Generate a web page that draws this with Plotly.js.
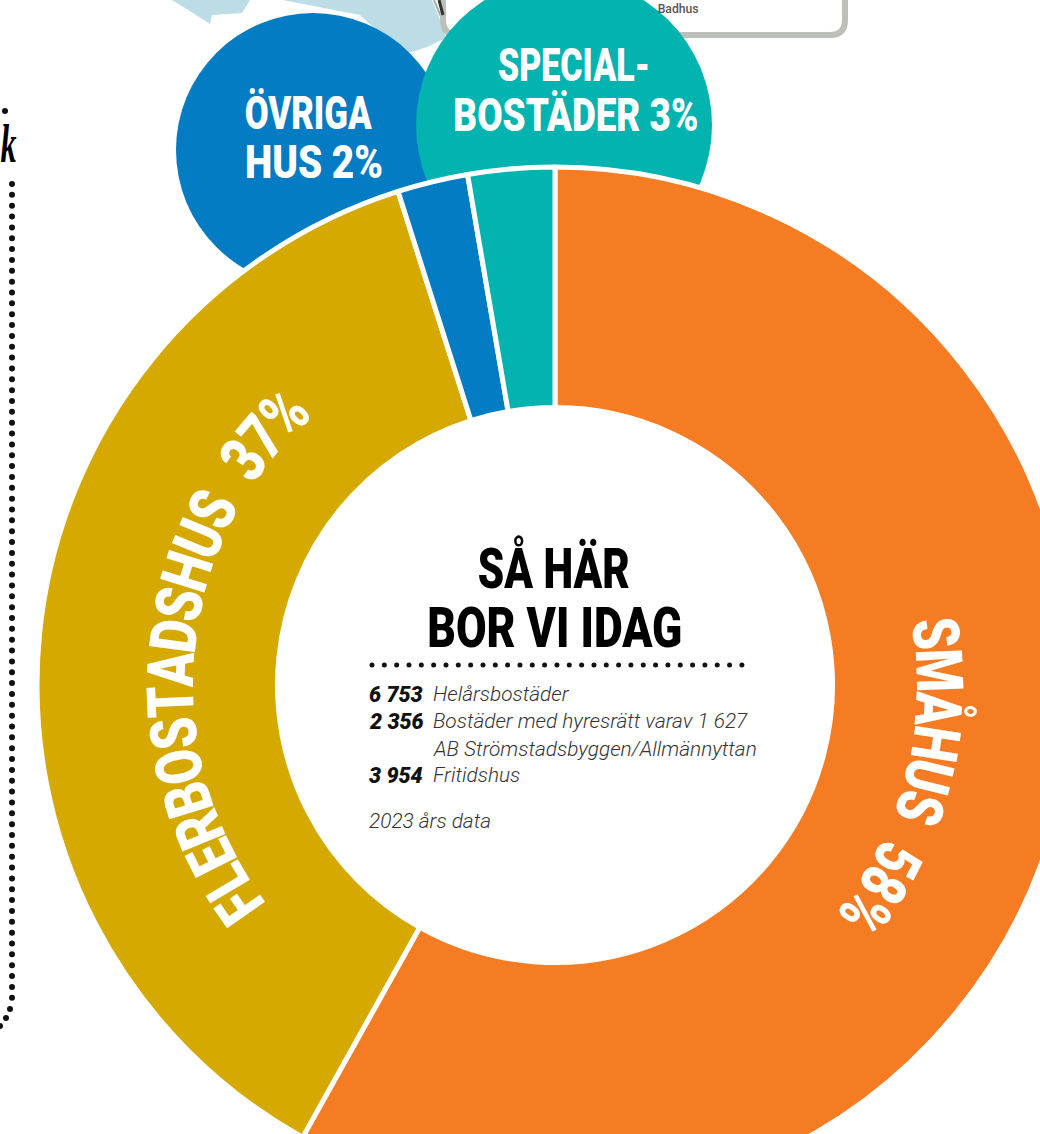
<!DOCTYPE html>
<html><head><meta charset="utf-8">
<script src="https://cdn.plot.ly/plotly-3.0.1.min.js"></script>
<style>html,body{margin:0;padding:0;width:1040px;height:1134px;overflow:hidden;background:#fff}#c{position:absolute;left:0;top:0}</style>
</head><body><div id="c"></div>
<script>
const categories=['SMÅHUS','FLERBOSTADSHUS','ÖVRIGA HUS','SPECIALBOSTÄDER'];
const shares=[58.1,37,2.2,2.7];
const shareLabels=[58,37,2,3];
const sliceColors=['#f57c22','#d6a900','#047cc3','#02b3b0'];
const tableNumbers=['6 753','2 356','','3 954'];
const tableTexts=['Helårsbostäder','Bostäder med hyresrätt varav 1 627','AB Strömstadsbyggen/Allmännyttan','Fritidshus'];
const dataNote='2023 års data';
const centerTitle=['SÅ HÄR','BOR VI IDAG'];

const W=1110,H=1370,CX=555,CY=685,R=518;
const HEAD='Roboto,sans-serif';
const BODY='Roboto,sans-serif';
const ann=[],fit=[];
function txt(t,x,y,size,color,opt,len){fit.push(len||0);ann.push(Object.assign({text:t,x:x,y:y,xref:'x',yref:'y',showarrow:false,xanchor:'center',yanchor:'middle',font:{family:HEAD,size:size,color:color,weight:900}},opt||{}));}
const ctx=document.createElement('canvas').getContext('2d');
function arcText(s,r,a0,a1,size){
  ctx.font='900 '+size+'px Roboto';
  const w=[...s].map(c=>ctx.measureText(c).width*(c===' '?2.2:1)),tot=w.reduce((a,b)=>a+b,0);
  const sx=r*Math.abs(a1-a0)*Math.PI/180/tot;
  let acc=0;[...s].forEach((c,i)=>{
    const th=a0+(a1-a0)*(acc+w[i]/2)/tot;acc+=w[i];
    if(c===' ')return;
    const t=th*Math.PI/180;
    txt(c,CX+r*Math.sin(t),CY-r*Math.cos(t),size,'#fff',{textangle:th},w[i]*sx);
  });
}
arcText(categories[0]+' '+shareLabels[0]+'%',384,80,129,65);
arcText(categories[1]+' '+shareLabels[1]+'%',384,233,318,65);
txt('SPECIAL-',574,65,46,'#fff',null,152);txt('BOSTÄDER '+shareLabels[3]+'%',575.5,115,46,'#fff',null,245);
txt('ÖVRIGA',308.5,113,46,'#fff',null,127);txt('HUS '+shareLabels[2]+'%',314,162,46,'#fff',null,138);
txt(centerTitle[0],554,568,56,'#000',null,152);txt(centerTitle[1],554.5,628,56,'#000',null,255);
const rows=[694,721,749,775];
const bodyF={family:BODY,size:20.8,color:'#333',weight:300,style:'italic'};
const numF={family:BODY,size:21.5,color:'#111',weight:900,style:'italic'};
tableNumbers.forEach((n,i)=>{if(n)txt(n,367,rows[i],21.5,'#111',{xanchor:'left',font:numF});});
tableTexts.forEach((n,i)=>txt(n,431,rows[i],20.8,'#333',{xanchor:'left',font:bodyF}));
txt(dataNote,367,821,20.8,'#333',{xanchor:'left',font:bodyF});
txt('Badhus',678,9,12,'#555',{font:{family:BODY,size:12,color:'#555',weight:500}},41);
txt('k',8,144,54,'#000',{font:{family:'Liberation Serif',size:54,color:'#000',weight:700,style:'italic'}},16);

const dotX=[],dotY=[];
for(let x=372;x<=742;x+=12.33){dotX.push(x);dotY.push(665);}
const sideX=[5],sideY=[111];
for(let y=184;y<=1000;y+=10.85){sideX.push(12);sideY.push(y);}
sideX.push(10,6,0);sideY.push(1009,1018,1026);

const shapes=[
 {type:'path',xref:'x',yref:'y',path:'M172,0 L185,8 L210,24 L212,15 L242,13 L247,5 L250,0 Z',fillcolor:'#bcdde6',line:{width:0},layer:'below'},
 {type:'path',xref:'x',yref:'y',path:'M283,0 L303,4 L360,15 L400,52 L412,52 L427,47 L446,38 L440,20 L432,0 Z',fillcolor:'#bcdde6',line:{width:0},layer:'below'},
 {type:'line',xref:'x',yref:'y',x0:434,x1:449,y0:0,y1:36,line:{color:'#aaa',width:2},layer:'below'},
 {type:'path',xref:'x',yref:'y',path:'M443,-20 L443,20 Q443,35 458,35 L830,35 Q845,35 845,20 L845,-20',fillcolor:'#fff',line:{color:'#bdbfba',width:6},layer:'below'},
 {type:'line',xref:'x',yref:'y',x0:439,x1:443,y0:0,y1:15,line:{color:'#333',width:3},layer:'below'},
 {type:'circle',xref:'x',yref:'y',x0:313-137,x1:313+137,y0:150-137,y1:150+137,fillcolor:sliceColors[2],line:{width:0},layer:'below'},
 {type:'circle',xref:'x',yref:'y',x0:564-148,x1:564+148,y0:125-148,y1:125+148,fillcolor:sliceColors[3],line:{width:0},layer:'below'}
];
const traces=[
 {type:'pie',values:shares,labels:categories,marker:{colors:sliceColors,line:{color:'#fff',width:5}},hole:277.5/R,sort:false,direction:'clockwise',rotation:0,textinfo:'none',hoverinfo:'none',showlegend:false,
  domain:{x:[(CX-R)/W,(CX+R)/W],y:[1-(CY+R)/H,1-(CY-R)/H]}},
 {type:'scatter',mode:'markers',x:dotX,y:dotY,marker:{size:5,color:'#111'},hoverinfo:'skip',showlegend:false,cliponaxis:false},
 {type:'scatter',mode:'markers',x:sideX,y:sideY,marker:{size:6,color:'#111'},hoverinfo:'skip',showlegend:false,cliponaxis:false}
];
const ax={visible:false,fixedrange:true};
Plotly.newPlot('c',traces,{width:W,height:H,margin:{l:0,r:0,t:0,b:0},paper_bgcolor:'#fff',plot_bgcolor:'rgba(0,0,0,0)',showlegend:false,
 xaxis:Object.assign({range:[0,W]},ax),yaxis:Object.assign({range:[H,0]},ax),annotations:ann,shapes:shapes},{staticPlot:true,displayModeBar:false}).then(gd=>{
  gd.querySelectorAll('.annotation').forEach(g=>{
    const i=+g.getAttribute('data-index'),t=g.querySelector('text');
    if(fit[i]&&t){t.setAttribute('textLength',fit[i]);t.setAttribute('lengthAdjust','spacingAndGlyphs');}
  });
});
</script></body></html>
